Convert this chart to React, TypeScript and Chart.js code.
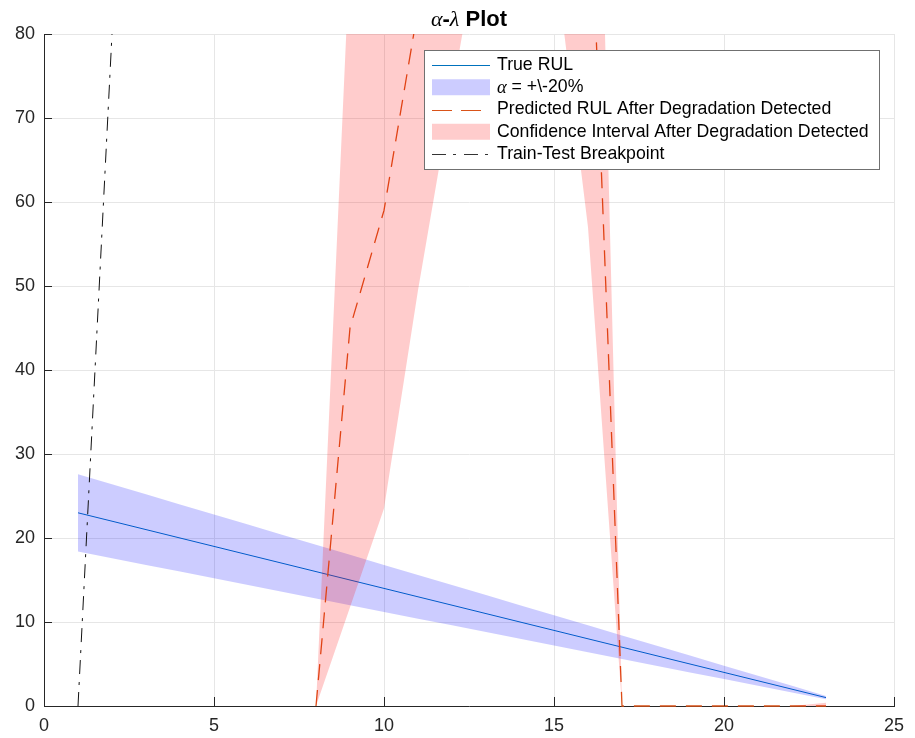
import React, { useEffect, useRef } from "react";
import { Chart, registerables } from "chart.js";

Chart.register(...registerables);

// ---- data ----
const trueX = [1, 2, 3, 4, 5, 6, 7, 8, 9, 10, 11, 12, 13, 14, 15, 16, 17, 18, 19, 20, 21, 22, 23];
const trueRUL = [23, 22, 21, 20, 19, 18, 17, 16, 15, 14, 13, 12, 11, 10, 9, 8, 7, 6, 5, 4, 3, 2, 1];
const alphaUpper = [27.6, 26.4, 25.2, 24, 22.8, 21.6, 20.4, 19.2, 18, 16.8, 15.6, 14.4, 13.2, 12, 10.8, 9.6, 8.4, 7.2, 6, 4.8, 3.6, 2.4, 1.2];
const alphaLower = [18.4, 17.6, 16.8, 16, 15.2, 14.4, 13.6, 12.8, 12, 11.2, 10.4, 9.6, 8.8, 8, 7.2, 6.4, 5.6, 4.8, 4, 3.2, 2.4, 1.6, 0.8];

const predX = [8, 9, 10, 11, 12, 13, 14, 15, 16, 17, 18, 19, 20, 21, 22, 23];
const predRUL = [0, 45, 59, 83, 97, 110, 115, 112, 105, 0, 0, 0, 0, 0, 0, 0];
const ciUpper = [0, 90, 122, 150, 168, 178, 182, 178, 160, 0, 0, 0, 0, 0, 0, 0.4];
const ciLower = [0, 11.75, 23.5, 49.5, 73, 96, 108, 90, 57, 0, 0, 0, 0, 0, 0, 0];

const breakX = [1, 2];
const breakY = [0, 80];

const xTicks = [0, 5, 10, 15, 20, 25];
const yTicks = [0, 10, 20, 30, 40, 50, 60, 70, 80];

const legendLabels = [
  "True RUL",
  "= +\\-20%",
  "Predicted RUL After Degradation Detected",
  "Confidence Interval After Degradation Detected",
  "Train-Test Breakpoint",
];

const BLUE = "#0072BD";
const ORANGE = "#D95319";
const BLUE_FILL = "rgba(0,0,255,0.2)";
const RED_FILL = "rgba(255,0,0,0.2)";
const SANS = '"Liberation Sans", Arial, Helvetica, sans-serif';
const SERIF = '"Liberation Serif", "Times New Roman", serif';
const PRED_DASH = [16, 10];
const BREAK_DASH = [14, 7, 3, 8];

const pts = (xs: number[], ys: number[]) => xs.map((x, i) => ({ x, y: ys[i] }));

const titlePlugin = {
  id: "mixedTitle",
  afterDraw(chart: any) {
    const { ctx, chartArea: a } = chart;
    const parts = [
      { t: "\u03b1", f: `italic 22px ${SERIF}` },
      { t: "-", f: `bold 22px ${SANS}` },
      { t: "\u03bb", f: `italic 22px ${SERIF}` },
      { t: " Plot", f: `bold 22px ${SANS}` },
    ];
    ctx.save();
    let total = 0;
    for (const p of parts) {
      ctx.font = p.f;
      total += ctx.measureText(p.t).width;
    }
    let x = (a.left + a.right) / 2 - total / 2;
    const y = a.top - 8;
    ctx.fillStyle = "#000";
    ctx.textBaseline = "alphabetic";
    ctx.textAlign = "left";
    for (const p of parts) {
      ctx.font = p.f;
      ctx.fillText(p.t, x, y);
      x += ctx.measureText(p.t).width;
    }
    ctx.restore();
  },
};

const inTicksPlugin = {
  id: "inTicks",
  afterDatasetsDraw(chart: any) {
    const { ctx, chartArea: a, scales } = chart;
    ctx.save();
    ctx.strokeStyle = "#262626";
    ctx.lineWidth = 1;
    ctx.setLineDash([]);
    ctx.beginPath();
    for (const v of xTicks) {
      const px = Math.round(scales.x.getPixelForValue(v)) + 0.5;
      ctx.moveTo(px, a.bottom);
      ctx.lineTo(px, a.bottom - 9);
    }
    for (const v of yTicks) {
      const py = Math.round(scales.y.getPixelForValue(v)) + 0.5;
      ctx.moveTo(a.left, py);
      ctx.lineTo(a.left + 8, py);
    }
    ctx.stroke();
    ctx.restore();
  },
};

const legendPlugin = {
  id: "customLegend",
  afterDraw(chart: any) {
    const { ctx, chartArea: a } = chart;
    const L = a.right - 470;
    const T = a.top + 16;
    const W = 455;
    const H = 119;
    ctx.save();
    ctx.fillStyle = "#fff";
    ctx.fillRect(L, T, W, H);
    ctx.strokeStyle = "#707070";
    ctx.lineWidth = 1;
    ctx.setLineDash([]);
    ctx.strokeRect(Math.round(L) + 0.5, Math.round(T) + 0.5, W, H);
    const sx0 = L + 8;
    const sx1 = L + 66;
    const tx = L + 73;
    for (let i = 0; i < legendLabels.length; i++) {
      const cy = T + 15 + i * 22.25;
      const ly = Math.round(cy) + 0.5;
      ctx.setLineDash([]);
      ctx.lineWidth = 1;
      if (i === 0) {
        ctx.strokeStyle = BLUE;
        ctx.beginPath();
        ctx.moveTo(sx0, ly);
        ctx.lineTo(sx1, ly);
        ctx.stroke();
      } else if (i === 1) {
        ctx.fillStyle = BLUE_FILL;
        ctx.fillRect(sx0, cy - 8, sx1 - sx0, 16);
      } else if (i === 2) {
        ctx.strokeStyle = ORANGE;
        ctx.setLineDash([20, 9]);
        ctx.beginPath();
        ctx.moveTo(sx0, ly);
        ctx.lineTo(sx1, ly);
        ctx.stroke();
      } else if (i === 3) {
        ctx.fillStyle = RED_FILL;
        ctx.fillRect(sx0, cy - 8, sx1 - sx0, 16);
      } else {
        ctx.strokeStyle = "#333";
        ctx.setLineDash(BREAK_DASH);
        ctx.beginPath();
        ctx.moveTo(sx0, ly);
        ctx.lineTo(sx1, ly);
        ctx.stroke();
      }
      ctx.setLineDash([]);
      ctx.fillStyle = "#000";
      ctx.textBaseline = "middle";
      ctx.textAlign = "left";
      if (i === 1) {
        ctx.font = `italic 18.5px ${SERIF}`;
        ctx.fillText("\u03b1", tx, cy + 1);
        const w = ctx.measureText("\u03b1").width;
        ctx.font = `17.7px ${SANS}`;
        ctx.fillText(" " + legendLabels[i], tx + w, cy);
      } else {
        ctx.font = `17.7px ${SANS}`;
        ctx.fillText(legendLabels[i], tx, cy);
      }
    }
    ctx.restore();
  },
};

export default function App() {
  const ref = useRef<HTMLCanvasElement>(null);
  useEffect(() => {
    if (!ref.current) return;
    const lineBase = { pointRadius: 0, pointHoverRadius: 0, tension: 0 };
    const chart = new Chart(ref.current, {
      type: "line",
      data: {
        datasets: [
          // 0 true RUL
          { ...lineBase, label: legendLabels[0], data: pts(trueX, trueRUL), borderColor: BLUE, borderWidth: 1, fill: false, order: 6 },
          // 1 alpha upper
          { ...lineBase, label: "alphaUpper", data: pts(trueX, alphaUpper), borderColor: "rgba(0,0,0,0)", borderWidth: 1, backgroundColor: BLUE_FILL, fill: 2, order: 5 },
          // 2 alpha lower
          { ...lineBase, label: "alphaLower", data: pts(trueX, alphaLower), borderColor: "rgba(0,0,0,0)", borderWidth: 1, fill: false, order: 5 },
          // 3 predicted
          { ...lineBase, label: legendLabels[2], data: pts(predX, predRUL), borderColor: ORANGE, borderWidth: 1.3, borderDash: PRED_DASH, fill: false, order: 4, clip: { left: 0, top: 0, right: 0, bottom: 2 } },
          // 4 CI upper
          { ...lineBase, label: "ciUpper", data: pts(predX, ciUpper), borderColor: "rgba(0,0,0,0)", borderWidth: 1, backgroundColor: RED_FILL, fill: 5, order: 3 },
          // 5 CI lower
          { ...lineBase, label: "ciLower", data: pts(predX, ciLower), borderColor: "rgba(0,0,0,0)", borderWidth: 1, fill: false, order: 3 },
          // 6 breakpoint
          { ...lineBase, label: legendLabels[4], data: pts(breakX, breakY), borderColor: "#111", borderWidth: 1, borderDash: BREAK_DASH, fill: false, order: 1 },
        ],
      },
      options: {
        animation: false,
        responsive: false,
        devicePixelRatio: 1,
        events: [],
        layout: { padding: { top: 34, right: 21, left: 0, bottom: 0 } },
        plugins: {
          legend: { display: false },
          title: { display: false },
          tooltip: { enabled: false },
        },
        scales: {
          x: {
            type: "linear",
            min: 0,
            max: 25,
            afterFit: (s: any) => { s.height = 32; },
            afterBuildTicks: (s: any) => { s.ticks = xTicks.map((v) => ({ value: v })); },
            ticks: { color: "#262626", font: { family: SANS, size: 18 }, padding: 9, maxRotation: 0, autoSkip: false },
            grid: { color: "#e6e6e6", lineWidth: 1, drawTicks: false },
            border: { display: true, color: "#262626", width: 1 },
          },
          y: {
            type: "linear",
            min: 0,
            max: 80,
            afterFit: (s: any) => { s.width = 44; },
            afterBuildTicks: (s: any) => { s.ticks = yTicks.map((v) => ({ value: v })); },
            ticks: { color: "#262626", font: { family: SANS, size: 18 }, padding: 9, autoSkip: false },
            grid: { color: "#e6e6e6", lineWidth: 1, drawTicks: false },
            border: { display: true, color: "#262626", width: 1 },
          },
        },
      },
      plugins: [inTicksPlugin, titlePlugin, legendPlugin],
    } as any);
    return () => chart.destroy();
  }, []);
  return (
    <canvas
      ref={ref}
      width={915}
      height={738}
      style={{ position: "fixed", left: 0, top: 0, width: 915, height: 738, display: "block" }}
    />
  );
}
